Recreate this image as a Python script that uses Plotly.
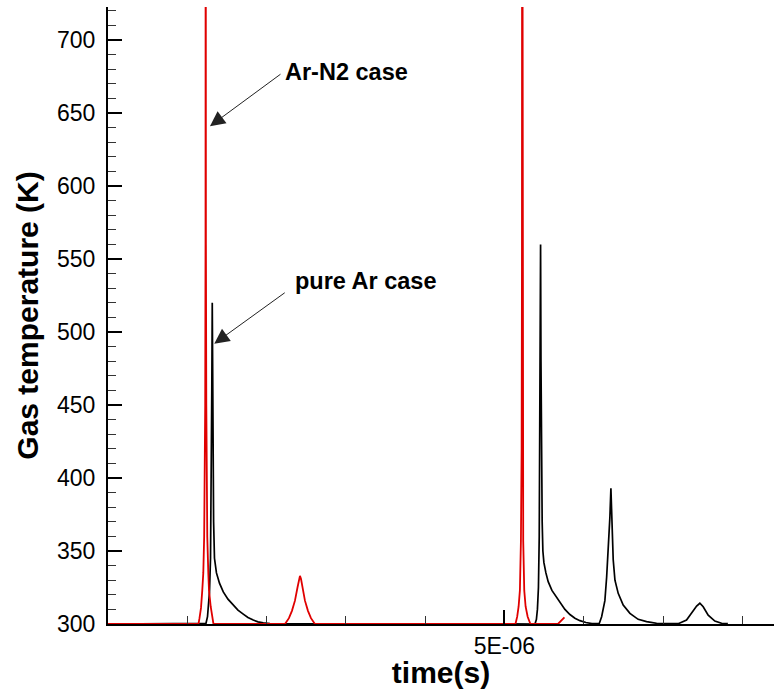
import plotly.graph_objects as go

# ---- data (time in microseconds, temperature in K) ----
ar_n2_time_us = [0.0, 1.141, 1.154, 1.173, 1.189, 1.202, 1.213, 1.221, 1.226, 1.230, 1.232,
                 1.235, 1.240, 1.246, 1.252, 1.265, 1.274, 1.295, 1.315, 1.330,
                 2.232, 2.282, 2.320, 2.358, 2.390, 2.409, 2.421, 2.434, 2.453, 2.484,
                 2.522, 2.560, 2.610,
                 5.139, 5.161, 5.179, 5.195, 5.208, 5.217, 5.221, 5.224, 5.228, 5.233,
                 5.237, 5.250, 5.267, 5.293, 5.328,
                 5.675, 5.706, 5.738, 5.757]
ar_n2_temp = [300, 300, 304, 311, 323, 335, 360, 400, 450, 560, 980,
              560, 450, 400, 360, 335, 323, 312, 305, 300,
              300, 304, 309, 316, 325, 331, 333, 331, 325, 316,
              309, 304, 300,
              300, 305, 312, 323, 357, 420, 545, 980, 545, 420,
              357, 323, 312, 305, 300,
              300, 301.5, 303.5, 304.5]

pure_ar_time_us = [0.0, 1.236, 1.255, 1.267, 1.280, 1.293, 1.303, 1.309, 1.315, 1.320,
                   1.325, 1.332, 1.343, 1.368, 1.406, 1.454, 1.513, 1.580, 1.639, 1.706,
                   1.765, 1.832, 1.892, 1.958, 2.043,
                   5.385, 5.403, 5.416, 5.429, 5.439, 5.448, 5.453, 5.456, 5.461, 5.467,
                   5.476, 5.485, 5.498, 5.523, 5.552, 5.599, 5.658, 5.712, 5.763, 5.826,
                   5.889, 5.952, 6.028, 6.104,
                   6.195, 6.226, 6.267, 6.289, 6.309, 6.330, 6.343, 6.360, 6.372, 6.394,
                   6.435, 6.498, 6.583, 6.687, 6.793, 6.919,
                   7.192, 7.297, 7.361, 7.424, 7.465, 7.507, 7.570, 7.654, 7.739, 7.818]
pure_ar_temp = [300, 300.5, 305, 312, 322, 345, 400, 460, 520, 470,
                420, 370, 345, 335, 328, 322, 317, 313, 309.5, 306.8,
                304.5, 302.7, 301.5, 300.8, 300.2,
                300, 303, 310, 325, 360, 430, 500, 560, 480, 410,
                370, 350, 342, 335, 329, 323, 318, 313.5, 310, 306.5,
                304, 302.3, 301, 300.3,
                300.2, 305, 316, 332, 351, 373, 393, 371, 344, 330,
                321, 313, 307.3, 303.2, 301.6, 300.5,
                300.2, 302.7, 307.3, 312.3, 314.2, 311.8, 306, 302, 300.5, 300.2]

x_tick_vals = [5e-6]
x_tick_text = ["5E-06"]
x_minor_vals = [1e-6, 2e-6, 3e-6, 4e-6, 6e-6, 7e-6, 8e-6]

US = 1e-6

fig = go.Figure()
fig.add_trace(go.Scatter(x=[t * US for t in pure_ar_time_us], y=pure_ar_temp,
                         mode="lines", line=dict(color="black", width=1.7),
                         name="pure Ar case", showlegend=False))
fig.add_trace(go.Scatter(x=[t * US for t in ar_n2_time_us], y=ar_n2_temp,
                         mode="lines", line=dict(color="#e00000", width=1.8),
                         name="Ar-N2 case", showlegend=False))

tick_font = dict(family="Liberation Sans, Arial, sans-serif", size=23, color="black")
title_font = dict(family="Liberation Sans, Arial, sans-serif", size=30, color="black")

fig.update_xaxes(range=[0, 8.4e-6], tickmode="array", tickvals=x_tick_vals, ticktext=x_tick_text,
                 ticks="inside", ticklen=14, tickwidth=2, tickcolor="black",
                 minor=dict(tickmode="array", tickvals=x_minor_vals, ticks="inside", ticklen=8,
                            tickwidth=1.3, tickcolor="#333"),
                 showline=True, linecolor="black", linewidth=2, showgrid=False, zeroline=False,
                 tickfont=tick_font,
                 title=dict(text="<b>time(s)</b>", font=title_font, standoff=0),
                 automargin=False)
fig.update_yaxes(range=[300, 722.6], tickmode="linear", tick0=300, dtick=50,
                 ticks="inside", ticklen=14, tickwidth=2, tickcolor="black",
                 minor=dict(dtick=10, ticks="inside", ticklen=8, tickwidth=1.3, tickcolor="#333"),
                 showline=True, linecolor="black", linewidth=2, showgrid=False, zeroline=False,
                 tickfont=tick_font, ticklabelstandoff=6,
                 title=dict(text="<b>Gas temperature (K)</b>", font=title_font, standoff=10),
                 automargin=False)

ann_font = dict(family="Liberation Sans, Arial, sans-serif", size=23.5, color="black")
fig.add_annotation(x=2.207 * US, y=678, text="<b>Ar-N2 case</b>", showarrow=False,
                   xanchor="left", yanchor="middle", font=ann_font)
fig.add_annotation(x=2.333 * US, y=535, text="<b>pure Ar case</b>", showarrow=False,
                   xanchor="left", yanchor="middle", font=ann_font)
fig.add_annotation(x=1.286 * US, y=641, ax=72, ay=-53, text="", showarrow=True,
                   arrowhead=2, arrowsize=3, arrowwidth=1, arrowcolor="#222")
fig.add_annotation(x=1.340 * US, y=492, ax=72, ay=-52, text="", showarrow=True,
                   arrowhead=2, arrowsize=3, arrowwidth=1, arrowcolor="#222")

fig.update_layout(width=774, height=689, margin=dict(l=108, r=0, t=7, b=65),
                  plot_bgcolor="white", paper_bgcolor="white")

fig.write_html("out.html")
